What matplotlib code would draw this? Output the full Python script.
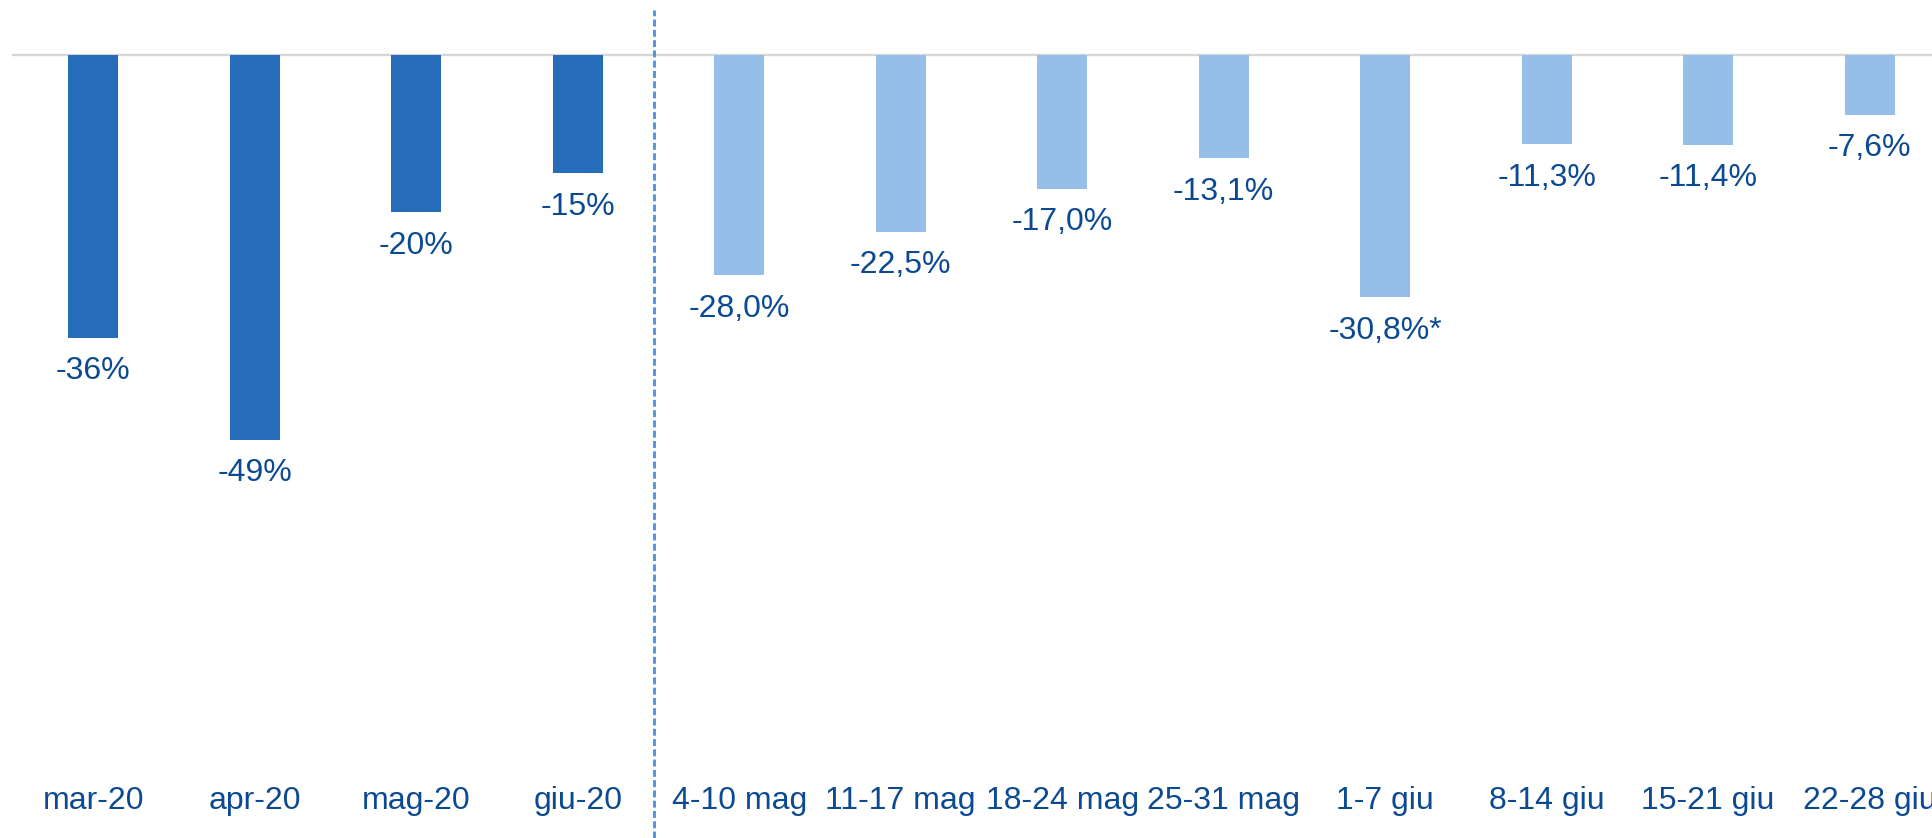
import matplotlib
matplotlib.use('Agg')
import numpy as np
from matplotlib import pyplot as plt
from matplotlib import transforms

# Data
months = ['mar-20', 'apr-20', 'mag-20', 'giu-20']
month_values = [-36, -49, -20, -15]
month_labels = ['-36%', '-49%', '-20%', '-15%']
weeks = ['4-10 mag', '11-17 mag', '18-24 mag', '25-31 mag', '1-7 giu', '8-14 giu', '15-21 giu', '22-28 giu']
week_values = [-28.0, -22.5, -17.0, -13.1, -30.8, -11.3, -11.4, -7.6]
week_labels = ['-28,0%', '-22,5%', '-17,0%', '-13,1%', '-30,8%*', '-11,3%', '-11,4%', '-7,6%']

# Plot aspects
color_month = '#256DB8'
color_week = '#95BEE8'
color_text = '#0B4A92'
color_zero = '#D6D6D6'
color_sep = '#4A90DC'
font_size = 23
bar_width = 0.31

plt.rcParams['font.family'] = ['Liberation Sans', 'DejaVu Sans']

categories = months + weeks
values = month_values + week_values
labels = month_labels + week_labels
colors = [color_month] * len(months) + [color_week] * len(weeks)
x = np.arange(len(categories))

fig = plt.figure(figsize=(19.33, 8.38), dpi=100)
ax = fig.add_axes([0.0064, 0.0, 1.0026, 1.0])

ax.axhline(0, color=color_zero, lw=1.7, zorder=1)
ax.bar(x, values, width=bar_width, color=colors, zorder=2)

# value labels under each bar
for xi, v, lab in zip(x, values, labels):
    ax.annotate(lab, (xi, v), xytext=(0, -24), textcoords='offset points',
                ha='center', va='center', fontsize=font_size, color=color_text)

# category labels near the bottom
trans = transforms.blended_transform_factory(ax.transData, ax.transAxes)
for xi, cat in zip(x, categories):
    ax.text(xi, 0.044, cat, transform=trans, ha='center', va='center',
            fontsize=font_size, color=color_text)

# separator between monthly and weekly data
ax.axvline(len(months) - 0.53, ymin=0.0, ymax=0.988, color=color_sep, lw=2.0,
           linestyle=(0, (2.5, 1.2)), zorder=1)

ax.set_xlim(-0.5, len(categories) - 0.5)
ax.set_ylim(-99.7, 7.07)
ax.axis('off')

fig.savefig('out.png', dpi=100)
